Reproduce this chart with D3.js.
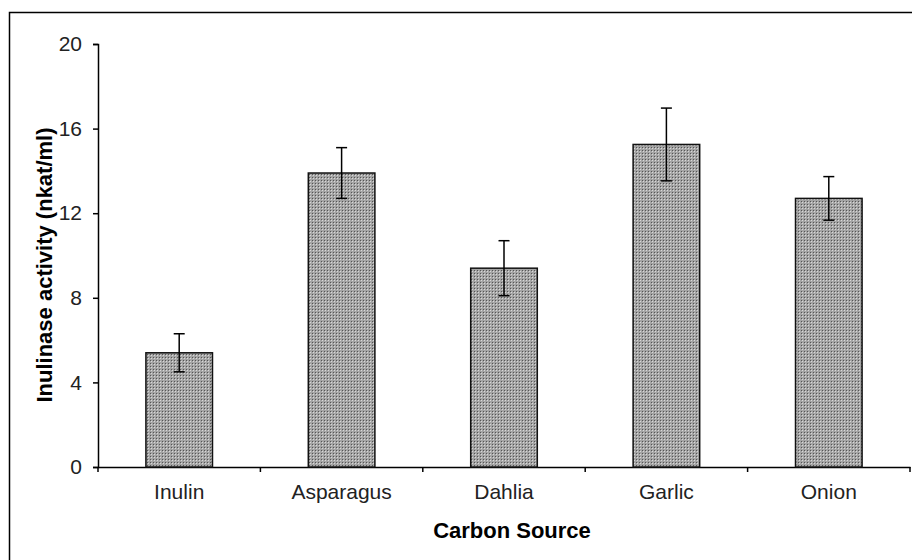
<!DOCTYPE html>
<html>
<head>
<meta charset="utf-8">
<script src="https://cdn.jsdelivr.net/npm/d3@7"></script>
<style>
  body { margin: 0; background: #fff; }
  svg { display: block; font-family: "Liberation Sans", Arial, sans-serif; }
</style>
</head>
<body>
<div id="chart"></div>
<script>
// data
const sources = ["Inulin", "Asparagus", "Dahlia", "Garlic", "Onion"];
const activity = [5.4, 13.9, 9.4, 15.25, 12.7];
const errors = [0.9, 1.2, 1.3, 1.72, 1.03];
const yTicks = [0, 4, 8, 12, 16, 20];

const W = 912, H = 560;
const plotL = 98, plotR = 910, plotT = 44, plotB = 467;

const svg = d3.select("#chart").append("svg")
  .attr("width", W)
  .attr("height", H);

// dotted fill like the old excel pattern
const pat = svg.append("defs").append("pattern")
  .attr("id", "dots")
  .attr("patternUnits", "userSpaceOnUse")
  .attr("width", 3).attr("height", 3);
pat.append("rect").attr("width", 3).attr("height", 3).attr("fill", "#a4a4a4");
pat.append("rect").attr("width", 1).attr("height", 1).attr("fill", "#555");
pat.append("rect").attr("x", 1).attr("y", 1).attr("width", 1).attr("height", 1).attr("fill", "#d8d8d8");

// outer frame (only top/left visible in the picture)
svg.append("rect")
  .attr("x", 9.5).attr("y", 12.5)
  .attr("width", W + 20).attr("height", H + 20)
  .attr("fill", "none")
  .attr("stroke", "#000")
  .attr("stroke-width", 1.5);

const x = d3.scaleBand()
  .domain(sources)
  .range([plotL, plotR])
  .padding(0);

const y = d3.scaleLinear()
  .domain([0, 20])
  .range([plotB, plotT]);

// Y axis
const yAxis = svg.append("g")
  .attr("transform", "translate(" + plotL + ",0)")
  .call(d3.axisLeft(y).tickValues(yTicks).tickSize(5).tickPadding(11).tickFormat(d3.format("d")));
yAxis.select(".domain").attr("stroke", "#000").attr("stroke-width", 1.5);
yAxis.selectAll(".tick line").attr("stroke", "#000").attr("stroke-width", 1.5);
yAxis.selectAll("text")
  .attr("font-size", 21)
  .attr("font-family", "Liberation Sans, Arial, sans-serif")
  .attr("fill", "#222");

// X axis (labels at centre, ticks on category boundaries)
const xAxis = svg.append("g")
  .attr("transform", "translate(0," + plotB + ")")
  .call(d3.axisBottom(x).tickSize(0).tickPadding(17).tickSizeOuter(0));
xAxis.select(".domain").attr("stroke", "#000").attr("stroke-width", 1.5);
xAxis.selectAll("text")
  .attr("font-size", 21)
  .attr("font-family", "Liberation Sans, Arial, sans-serif")
  .attr("fill", "#222");

const bounds = sources.map(d => x(d)).concat([x(sources[sources.length - 1]) + x.bandwidth()]);
xAxis.selectAll(".bound")
  .data(bounds)
  .enter().append("line")
  .attr("class", "bound")
  .attr("x1", d => d).attr("x2", d => d)
  .attr("y1", 0).attr("y2", 5)
  .attr("stroke", "#000")
  .attr("stroke-width", 1.5);

// bars
const barW = x.bandwidth() * 0.41;
svg.selectAll(".bar")
  .data(sources)
  .enter().append("rect")
  .attr("class", "bar")
  .attr("x", d => x(d) + x.bandwidth() / 2 - barW / 2)
  .attr("y", (d, i) => y(activity[i]))
  .attr("width", barW)
  .attr("height", (d, i) => y(0) - y(activity[i]))
  .attr("fill", "url(#dots)")
  .attr("stroke", "#111")
  .attr("stroke-width", 1.5);

// error bars
const capW = 11;
const eb = svg.selectAll(".err")
  .data(sources)
  .enter().append("g")
  .attr("class", "err")
  .attr("stroke", "#000")
  .attr("stroke-width", 1.5);
eb.append("line")
  .attr("x1", d => x(d) + x.bandwidth() / 2)
  .attr("x2", d => x(d) + x.bandwidth() / 2)
  .attr("y1", (d, i) => y(activity[i] + errors[i]))
  .attr("y2", (d, i) => y(activity[i] - errors[i]));
eb.append("line")
  .attr("x1", d => x(d) + x.bandwidth() / 2 - capW / 2)
  .attr("x2", d => x(d) + x.bandwidth() / 2 + capW / 2)
  .attr("y1", (d, i) => y(activity[i] + errors[i]))
  .attr("y2", (d, i) => y(activity[i] + errors[i]));
eb.append("line")
  .attr("x1", d => x(d) + x.bandwidth() / 2 - capW / 2)
  .attr("x2", d => x(d) + x.bandwidth() / 2 + capW / 2)
  .attr("y1", (d, i) => y(activity[i] - errors[i]))
  .attr("y2", (d, i) => y(activity[i] - errors[i]));

// axis titles
svg.append("text")
  .attr("x", (plotL + plotR) / 2 + 8)
  .attr("y", 538)
  .attr("text-anchor", "middle")
  .attr("font-size", 22)
  .attr("font-weight", "bold")
  .attr("fill", "#000")
  .text("Carbon Source");

svg.append("text")
  .attr("transform", "translate(52,265) rotate(-90)")
  .attr("text-anchor", "middle")
  .attr("font-size", 22)
  .attr("font-weight", "bold")
  .attr("fill", "#000")
  .text("Inulinase activity (nkat/ml)");
</script>
</body>
</html>
